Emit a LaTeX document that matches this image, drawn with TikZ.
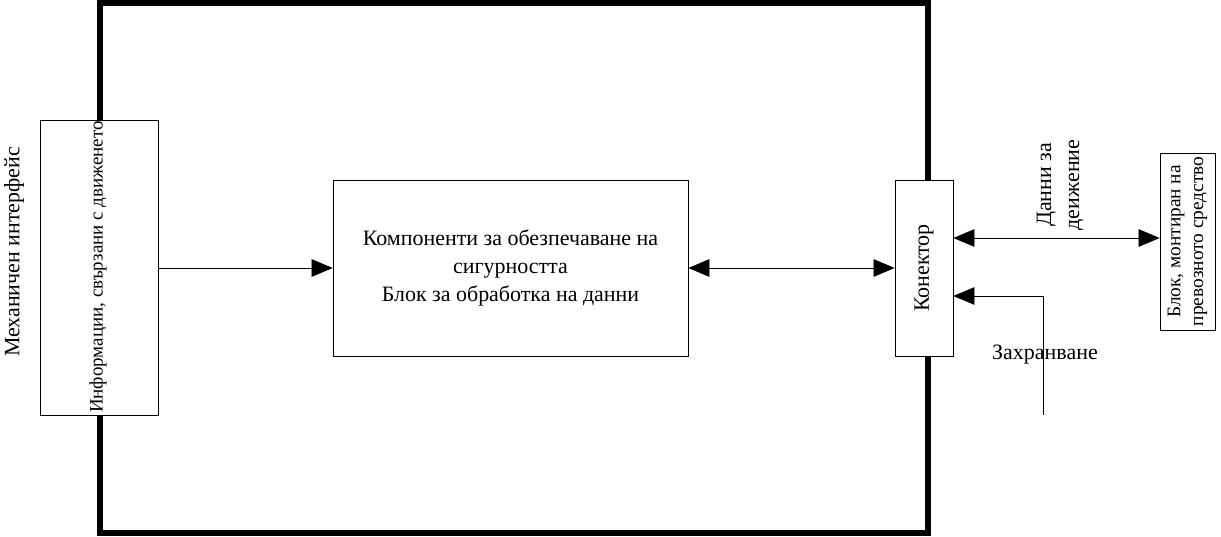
\documentclass[tikz,border=0pt]{standalone}
\usepackage{fontspec}
\setmainfont{Liberation Serif}
\usetikzlibrary{arrows.meta}
\tikzstyle{bloc} = [rectangle, draw=black, fill=white, inner sep=0pt]
\tikzstyle{fleche} = [-{Triangle[length=12pt,width=10pt]}]
\tikzstyle{dfleche} = [{Triangle[length=12pt,width=10pt]}-{Triangle[length=12pt,width=10pt]}]

\begin{document}
\begin{tikzpicture}[x=0.02cm,y=-0.02cm,font=\fontsize{12.5}{16}\selectfont]
                \useasboundingbox (0,0) rectangle (1221,537);
                \draw[line width=3.5pt] (100,3) rectangle (928,533);

                \node [bloc, minimum width=2.36cm, minimum height=5.9cm] (info) at (99,267.5) {};
                \node [rotate=90, font=\fontsize{10.8}{13}\selectfont] at (98,267) {Информации, свързани с движенето};
                \node [rotate=90] (meh) at (14,252) {Механичен интерфейс};

                \node [bloc, minimum width=7.1cm, minimum height=3.52cm, align=center] (securite) at (510.5,268) {Компоненти за обезпечаване на\\сигурността\\Блок за обработка на данни};

                \node [bloc, minimum width=1.16cm, minimum height=3.52cm] (connecteur) at (924,268) {};
                \node [rotate=90] at (924,268) {Конектор};

                \node [bloc, minimum width=1.1cm, minimum height=3.54cm] (vehicule) at (1187.5,241.5) {};
                \node [rotate=90, align=center, font=\fontsize{11}{13}\selectfont] at (1187.5,241.5) {Блок, монтиран на\\превозното средство};

                \draw[fleche] (info.east |- 0,268) -- (securite.west |- 0,268);
                \draw[dfleche] (securite.east |- 0,268) -- (connecteur.west |- 0,268);
                \draw[dfleche] (connecteur.east |- 0,238) -- (vehicule.west |- 0,238);
                \node [rotate=90, align=center] (donnees) at (1060,185) {Данни за\\деижение};

                \coordinate (alim) at (1043,415);
                \draw[fleche] (alim) -- (1043,296) -- (connecteur.east |- 0,296);
                \node (zahr) at (1045,355) {Захранване};
            \end{tikzpicture}
\end{document}
